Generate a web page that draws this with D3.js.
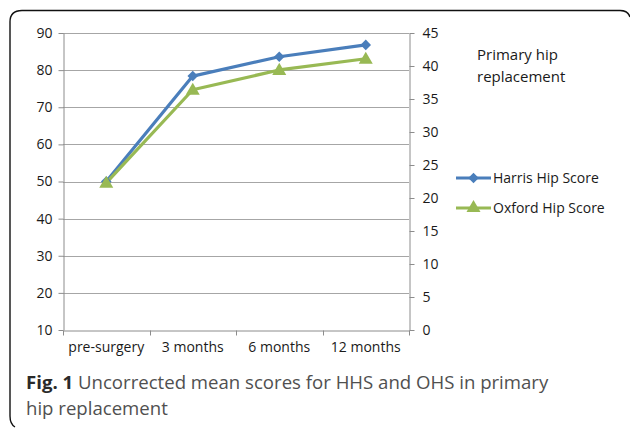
<!DOCTYPE html>
<html>
<head>
<meta charset="utf-8">
<script src="https://cdn.jsdelivr.net/npm/d3@7"></script>
<style>
  body { margin: 0; background: #fff; }
  svg { display: block; font-family: "Open Sans", sans-serif; }
</style>
</head>
<body>
<svg id="chart" width="630" height="428"></svg>
<script>
// data
var categories = ["pre-surgery", "3 months", "6 months", "12 months"];
var harrisValues = [50, 78.4, 83.6, 86.8];   // left axis
var oxfordValues = [22.3, 36.4, 39.4, 41.1]; // right axis
var leftTicks = [10, 20, 30, 40, 50, 60, 70, 80, 90];
var rightTicks = [0, 5, 10, 15, 20, 25, 30, 35, 40, 45];

var blue = "#4a7ebb";
var green = "#98b954";
var axisGray = "#8c8c8c";

var svg = d3.select("#chart");

var plotLeft = 63, plotRight = 409, plotTop = 33, plotBottom = 330;

var x = d3.scaleBand().domain(categories).range([plotLeft, plotRight]);
var yLeft = d3.scaleLinear().domain([10, 90]).range([plotBottom, plotTop]);
var yRight = d3.scaleLinear().domain([0, 45]).range([plotBottom, plotTop]);

// frame round the figure
svg.append("path")
    .attr("d", "M15,427 Q10,424 10,416 L10,22 Q10,10.5 22,10.5 L620,10.5 Q628,10.5 630,17")
    .attr("fill", "none")
    .attr("stroke", "#111")
    .attr("stroke-width", 1.4);

// gridlines
svg.append("g").selectAll("line")
    .data(leftTicks.slice(1))
    .join("line")
    .attr("x1", plotLeft).attr("x2", plotRight)
    .attr("y1", function(d) { return Math.round(yLeft(d)) + 0.5; })
    .attr("y2", function(d) { return Math.round(yLeft(d)) + 0.5; })
    .attr("stroke", "#a6a6a6").attr("stroke-width", 1);

// left axis
var gLeft = svg.append("g").attr("transform", "translate(" + (plotLeft + 0.5) + ",0)")
    .call(d3.axisLeft(yLeft).tickValues(leftTicks).tickSize(5).tickSizeOuter(0).tickPadding(6));

// right axis
var gRight = svg.append("g").attr("transform", "translate(" + (plotRight + 0.5) + ",0)")
    .call(d3.axisRight(yRight).tickValues(rightTicks).tickSize(5).tickSizeOuter(0).tickPadding(8));

// bottom axis: ticks at band edges
var gBottom = svg.append("g").attr("transform", "translate(0," + (plotBottom + 0.5) + ")")
    .call(d3.axisBottom(x).tickSize(0).tickPadding(12));
gBottom.selectAll(".edge")
    .data(categories.map(function(c) { return x(c); }).concat([plotRight]))
    .join("line")
    .attr("class", "edge")
    .attr("x1", function(d) { return Math.round(d) + 0.5; })
    .attr("x2", function(d) { return Math.round(d) + 0.5; })
    .attr("y1", 0).attr("y2", 5)
    .attr("stroke", axisGray);

[gLeft, gRight, gBottom].forEach(function(g) {
    g.select(".domain").attr("stroke", axisGray);
    g.selectAll(".tick line").attr("stroke", axisGray);
    g.selectAll("text").attr("font-size", 14).attr("fill", "#1a1a1a")
        .attr("font-family", "Open Sans, sans-serif");
});

var cx = function(d, i) { return x(categories[i]) + x.bandwidth() / 2; };

// Harris line
svg.append("path")
    .datum(harrisValues)
    .attr("fill", "none").attr("stroke", blue).attr("stroke-width", 3.2)
    .attr("stroke-linejoin", "round")
    .attr("d", d3.line().x(cx).y(function(d) { return yLeft(d); }));

// Oxford line
svg.append("path")
    .datum(oxfordValues)
    .attr("fill", "none").attr("stroke", green).attr("stroke-width", 3.2)
    .attr("stroke-linejoin", "round")
    .attr("d", d3.line().x(cx).y(function(d) { return yRight(d); }));

// square turned 45 degrees, like excel's diamond marker
var diamond = d3.symbol().type(d3.symbolSquare).size(56);
var triangle = d3.symbol().type(d3.symbolTriangle).size(85);

svg.append("g").selectAll("path")
    .data(harrisValues)
    .join("path")
    .attr("d", diamond)
    .attr("transform", function(d, i) { return "translate(" + cx(d, i) + "," + yLeft(d) + ") rotate(45)"; })
    .attr("fill", blue);

svg.append("g").selectAll("path")
    .data(oxfordValues)
    .join("path")
    .attr("d", triangle)
    .attr("transform", function(d, i) { return "translate(" + cx(d, i) + "," + (yRight(d) + 1) + ")"; })
    .attr("fill", green);

// chart title
svg.append("text").attr("x", 477).attr("y", 60).attr("font-size", 15).attr("fill", "#1a1a1a")
    .text("Primary hip");
svg.append("text").attr("x", 477).attr("y", 82).attr("font-size", 15).attr("fill", "#1a1a1a")
    .text("replacement");

// legend
var legend = [
    {name: "Harris Hip Score", color: blue, sym: diamond, rot: 45, y: 178},
    {name: "Oxford Hip Score", color: green, sym: triangle, rot: 0, y: 208}
];
var lg = svg.append("g").selectAll("g").data(legend).join("g")
    .attr("transform", function(d) { return "translate(456," + d.y + ")"; });
lg.append("line").attr("x1", 0).attr("x2", 35).attr("y1", 0).attr("y2", 0)
    .attr("stroke", function(d) { return d.color; }).attr("stroke-width", 3.2);
lg.append("path").attr("d", function(d) { return d.sym(); })
    .attr("transform", function(d) { return "translate(17.5,0) rotate(" + d.rot + ")"; })
    .attr("fill", function(d) { return d.color; });
lg.append("text").attr("x", 37).attr("y", 0).attr("dy", "0.35em")
    .attr("font-size", 14).attr("fill", "#1a1a1a")
    .text(function(d) { return d.name; });

// caption
var cap = svg.append("text").attr("x", 26).attr("y", 389).attr("font-size", 18.6).attr("fill", "#505050");
cap.append("tspan").attr("font-weight", "bold").attr("fill", "#2a2a2a").text("Fig. 1");
cap.append("tspan").text(" Uncorrected mean scores for HHS and OHS in primary");
svg.append("text").attr("x", 26).attr("y", 415).attr("font-size", 18.6).attr("fill", "#505050")
    .text("hip replacement");
</script>
</body>
</html>
